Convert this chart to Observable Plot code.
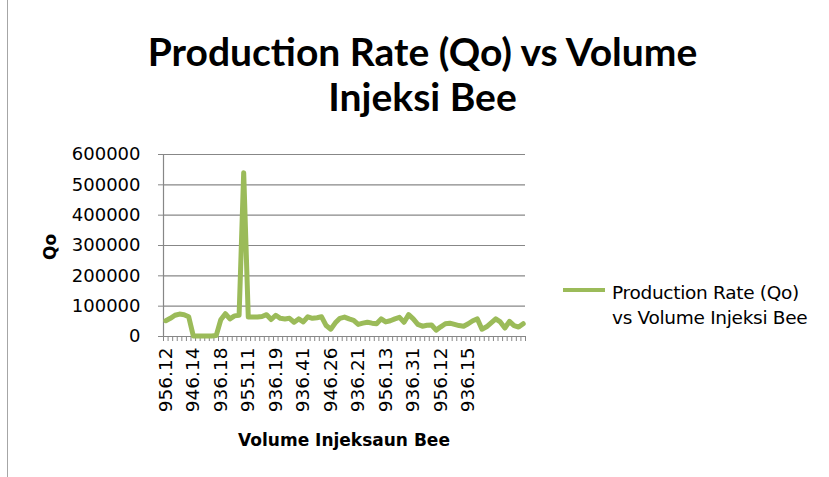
<!DOCTYPE html>
<html><head><meta charset="utf-8">
<script src="https://cdn.jsdelivr.net/npm/d3@7"></script>
<script src="https://cdn.jsdelivr.net/npm/@observablehq/plot@0.6"></script>
<style>
body{margin:0;background:#fff;}
#wrap{position:relative;width:829px;height:477px;overflow:hidden;font-family:"DejaVu Sans",sans-serif;color:#000;}
#border{position:absolute;left:7px;top:0;width:0;height:477px;border-left:1px solid #a6a6a6;}
#title{position:absolute;left:16px;top:29px;width:813px;text-align:center;font-family:Lato,sans-serif;font-weight:bold;font-size:39px;line-height:45px;}
#chart{position:absolute;left:0;top:130px;}
#ytitle{position:absolute;left:50px;top:247px;transform:translate(-50%,-50%) rotate(-90deg);font-weight:bold;font-size:17px;white-space:nowrap;}
#xtitle{position:absolute;left:344px;top:430px;transform:translateX(-50%);font-weight:bold;font-size:17px;white-space:nowrap;}
#legend{position:absolute;left:563px;top:281px;}
#legend .sw{position:absolute;left:0;top:7px;width:42px;height:0;border-top:4.5px solid #9BBB59;}
#legend .tx{position:absolute;left:49px;top:-1px;font-size:18.5px;line-height:25px;white-space:nowrap;letter-spacing:-0.3px;}
</style></head>
<body>
<div id="wrap">
  <div id="border"></div>
  <div id="title">Production Rate (Qo) vs Volume<br>Injeksi Bee</div>
  <div id="chart"></div>
  <div id="ytitle">Qo</div>
  <div id="xtitle">Volume Injeksaun Bee</div>
  <div id="legend"><div class="sw"></div><div class="tx">Production Rate (Qo)<br>vs Volume Injeksi Bee</div></div>
</div>
<script>
const tickLabels = ["956.12","946.14","936.18","955.11","936.19","936.41","946.26","936.21","956.13","936.31","956.12","936.15"];
const labelEvery = 6;
const yTicks = [0, 100000, 200000, 300000, 400000, 500000, 600000];
const qo = [
  52000, 60000, 70000, 74000, 72000, 65000, 2000, 2000, 2000, 2000,
  2000, 3000, 55000, 75000, 58000, 68000, 70000, 540000, 64000, 64000,
  64000, 66000, 72000, 56000, 70000, 60000, 58000, 60000, 47000, 58000,
  48000, 65000, 60000, 62000, 65000, 36000, 24000, 45000, 60000, 64000,
  58000, 53000, 40000, 44000, 47000, 44000, 42000, 58000, 48000, 52000,
  58000, 63000, 47000, 72000, 58000, 40000, 34000, 37000, 38000, 21000,
  32000, 42000, 44000, 40000, 36000, 34000, 42000, 52000, 58000, 24000,
  32000, 45000, 58000, 48000, 28000, 50000, 36000, 31000, 42000
];
const n = qo.length;
const data = qo.map((v, i) => ({i, v}));
const labelPos = tickLabels.map((_, k) => k * labelEvery + 0.5);
const grid = "#878787";

const chart = Plot.plot({
  width: 829,
  height: 347,
  marginLeft: 163,
  marginRight: 304,
  marginTop: 24,
  marginBottom: 141,
  style: {fontFamily: "DejaVu Sans, sans-serif", fontSize: "18px", color: "#000", background: "transparent"},
  x: {type: "linear", domain: [0, n], axis: null},
  y: {type: "linear", domain: [0, 600000], axis: null},
  marks: [
    Plot.ruleY(yTicks, {stroke: grid, strokeWidth: 1.2}),
    Plot.ruleX([0], {stroke: grid, strokeWidth: 1.2}),
    Plot.axisY({ticks: yTicks, tickSize: 5, tickPadding: 18, stroke: grid, tickFormat: d => String(d), label: null, fontSize: 18, fill: "#000"}),
    Plot.axisX({ticks: d3.range(n + 1), tickSize: 5, tickFormat: () => "", stroke: grid, label: null}),
    Plot.axisX({ticks: labelPos, tickSize: 0, tickPadding: 11, tickRotate: -90, tickFormat: d => tickLabels[Math.round((d - 0.5) / labelEvery)], label: null, fontSize: 18.5, fill: "#000"}),
    Plot.line(data, {x: d => d.i + 0.5, y: "v", stroke: "#9BBB59", strokeWidth: 5, strokeLinejoin: "round", strokeLinecap: "round"})
  ]
});
document.getElementById("chart").appendChild(chart);
</script>
</body></html>
